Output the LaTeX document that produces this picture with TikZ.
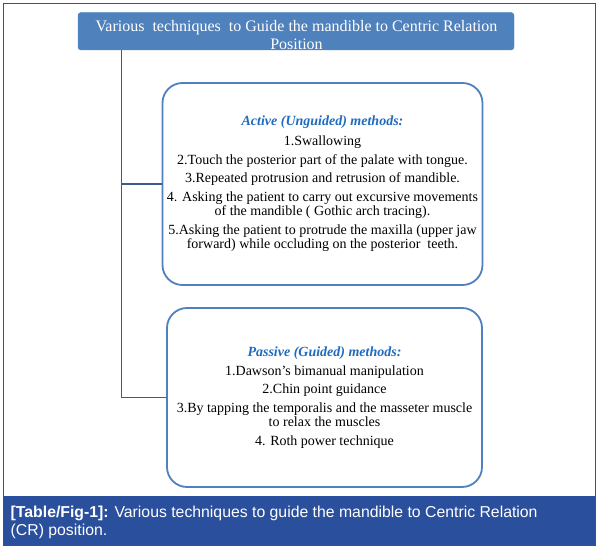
\documentclass[tikz,border=0pt]{standalone}
\usepackage{fontspec}
\setmainfont{Liberation Serif}
\newfontfamily\capfont{Liberation Sans}
\definecolor{offblue}{HTML}{4F81BD}
\definecolor{headblue}{HTML}{1F6BBF}
\definecolor{framecol}{HTML}{2F5591}
\definecolor{bandcol}{HTML}{2A4F9C}
\definecolor{linecol}{HTML}{3D5A8E}
\tikzset{
  titlebox/.style={fill=offblue, draw=offblue, rounded corners=3pt,
    minimum width=436pt, minimum height=37.5pt, inner sep=0pt},
  titletext/.style={text=white, align=center, inner sep=0pt,
    font=\fontsize{16}{18}\selectfont},
  methodbox/.style={draw=offblue, line width=1.8pt, rounded corners=20pt, fill=white, align=center,
    inner sep=0pt, font=\fontsize{14}{14.5}\selectfont},
  link/.style={draw=linecol, line width=1.6pt},
}
\begin{document}
\begin{tikzpicture}[x=1pt,y=-1pt]
\useasboundingbox (0,0) rectangle (598,548);
% frame and caption band
\fill[bandcol] (3,496) rectangle (595,545);
\draw[framecol, line width=0.9pt] (3,3) rectangle (595,545);
% title
\node[titlebox] (title) at (296,31.25) {};
\node[titletext] (titletext) at (296.5,35) {Various\ \ techniques\ \ to Guide the mandible to Centric Relation\\Position};
% boxes
\node[methodbox, minimum width=320pt, minimum height=202pt] (active) at (322.5,184)
 {{\color{headblue}\bfseries\itshape Active (Unguided) methods:}\\[5.5pt]
  1.Swallowing\\[4pt]
  2.Touch the posterior part of the palate with tongue.\\[4pt]
  3.Repeated protrusion and retrusion of mandible.\\[4pt]
  4. Asking the patient to carry out excursive movements\\
  of the mandible ( Gothic arch tracing).\\[4pt]
  5.Asking the patient to protrude the maxilla (upper jaw\\
  forward) while occluding on the posterior\ \ teeth.};
\node[methodbox, minimum width=315pt, minimum height=179pt] (passive) at (324.5,397.5)
 {{\color{headblue}\bfseries\itshape Passive (Guided) methods:}\\[4pt]
  1.Dawson's bimanual manipulation\\[4pt]
  2.Chin point guidance\\[4pt]
  3.By tapping the temporalis and the masseter muscle\\
  to relax the muscles\\[4pt]
  4. Roth power technique};
% connectors
\coordinate (trunk) at (121.5,0);
\draw[link] (title.south -| trunk) |- (passive.west);
\draw[link] (trunk |- active.west) -- (active.west);
% caption
\node[anchor=north west, text=white, align=left, inner sep=0pt,
  font=\capfont\fontsize{15.8}{18}\selectfont] (caption) at (10.5,506)
 {\textbf{[Table/Fig-1]:} Various techniques to guide the mandible to Centric Relation\\(CR) position.};
\end{tikzpicture}
\end{document}
